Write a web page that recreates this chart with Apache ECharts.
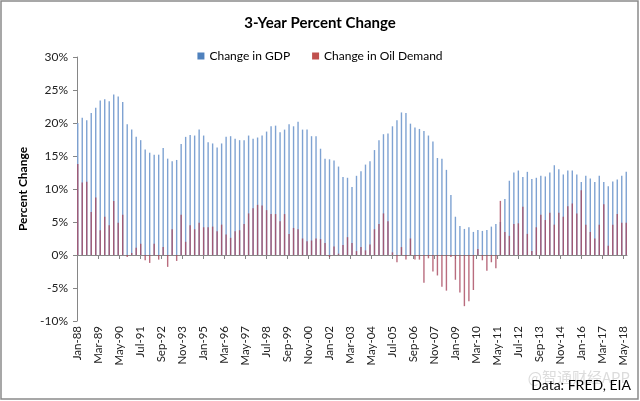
<!DOCTYPE html>
<html><head><meta charset="utf-8">
<script src="https://cdn.jsdelivr.net/npm/echarts@6/dist/echarts.min.js"></script>
<style>html,body{margin:0;padding:0;background:#fff}#c{width:640px;height:401px}</style>
</head><body><div id="c"></div>
<script>
const chartTitle = '3-Year Percent Change';
const seriesNames = ['Change in GDP', 'Change in Oil Demand'];
const sourceText = 'Data: FRED, EIA';
const watermarkText = '@智通财经APP';
const monthNames = ['Jan','Feb','Mar','Apr','May','Jun','Jul','Aug','Sep','Oct','Nov','Dec'];
const firstYear = 1988;      // axis starts Jan-88 (monthly date axis)
const monthCount = 367;      // Jan-88 .. Jul-18
const dataStepMonths = 3;    // quarterly observations
const labelEveryMonths = 14; // tick label spacing
// quarterly values, Jan-88 .. Jul-18 (percent)
const gdp = [20.0,20.8,20.4,21.5,22.3,23.4,23.6,23.3,24.3,24.0,23.2,
  19.8,19.0,17.9,17.4,16.0,15.5,15.2,15.2,16.2,14.6,
  14.2,14.4,16.8,17.9,18.2,18.1,19.0,18.1,17.1,16.9,
  16.3,16.9,17.9,18.0,17.6,17.4,17.4,18.1,17.6,17.8,
  18.1,18.7,19.5,19.6,18.6,19.0,19.8,19.5,20.2,19.0,
  19.0,18.0,18.0,16.1,14.6,14.5,14.3,13.4,11.8,11.7,
  10.3,12.0,12.7,13.7,14.2,15.9,17.4,18.3,18.4,19.5,
  20.4,21.6,21.5,19.9,19.3,19.1,18.8,18.1,17.2,14.7,
  14.6,12.9,9.1,5.8,4.4,3.95,4.2,3.5,3.8,3.65,
  3.8,4.3,4.7,5.0,8.5,11.25,12.5,12.8,11.8,12.6,
  11.5,11.7,12.0,11.9,12.5,13.6,13.0,12.2,12.8,12.8,
  12.2,11.05,12.0,11.6,11.05,12.0,11.05,10.4,11.15,11.45,12.0,12.6];
const oil = [13.8,11.0,11.1,6.5,8.7,3.75,5.8,4.5,8.2,4.9,6.1,
  -0.3,0.3,1.1,1.7,-0.8,-1.2,1.7,-0.7,1.2,-1.8,
  3.9,-0.9,6.1,2.0,4.5,3.9,4.9,4.2,4.2,4.3,
  3.6,4.6,3.1,2.6,3.6,3.75,4.7,6.3,7.1,7.6,
  7.5,6.8,6.2,6.2,5.1,6.2,3.2,4.1,3.9,2.5,
  2.1,2.2,2.5,2.4,1.8,-0.3,1.3,0.2,1.5,2.7,
  1.8,0.6,1.2,0.7,1.6,3.9,4.7,6.3,5.1,0.4,
  -1.1,1.2,-0.7,2.5,-0.7,-0.7,-4.2,-0.5,-2.5,-3.1,
  -4.8,-5.4,-0.3,-3.75,-5.7,-7.75,-7.0,-5.3,0.9,-0.8,
  -2.4,-1.1,-2.0,8.2,3.5,2.9,4.7,4.8,7.3,3.2,
  0.6,4.2,6.1,5.3,6.4,4.6,6.4,5.8,7.4,7.8,
  6.3,9.8,4.6,3.5,2.5,4.6,7.7,1.4,4.6,6.2,4.9,4.9];

const cats = [];
for (let m = 0; m < monthCount; m++) {
  const y = (firstYear + Math.floor(m / 12)) % 100;
  cats.push(monthNames[m % 12] + '-' + String(y).padStart(2, '0'));
}
function spread(vals) {
  const out = new Array(monthCount).fill('-');
  vals.forEach((v, i) => { out[i * dataStepMonths] = v; });
  return out;
}
const FONT = 'Lato';
const chart = echarts.init(document.getElementById('c'), null, {renderer: 'canvas'});
chart.setOption({
  backgroundColor: '#fff',
  animation: false,
  textStyle: {fontFamily: FONT},
  title: {text: chartTitle, left: 'center', top: 11,
    textStyle: {fontFamily: FONT, fontSize: 15, fontWeight: 'bold', color: '#000'}},
  legend: {top: 45, left: 'center', itemWidth: 7, itemHeight: 7, itemGap: 22,
    textStyle: {fontFamily: FONT, fontSize: 12, color: '#000'},
    data: [{name: seriesNames[0], icon: 'rect', itemStyle: {color: '#4F81BD', opacity: 1}},
           {name: seriesNames[1], icon: 'rect', itemStyle: {color: '#C0504D', opacity: 1}}]},
  grid: {left: 77, right: 13, top: 57, bottom: 80},
  xAxis: [
    {type: 'category', data: cats, position: 'bottom',
     axisLine: {show: false, onZero: false}, axisTick: {show: false}, splitLine: {show: false},
     axisLabel: {interval: labelEveryMonths - 1, rotate: 90, fontSize: 11.5, color: '#222', margin: 5, fontFamily: FONT}},
    {type: 'category', data: cats, position: 'top',
     axisLine: {show: true, onZero: true, lineStyle: {color: '#868686', width: 1}},
     axisTick: {show: true, inside: true, interval: labelEveryMonths - 1, alignWithLabel: true, length: 4, lineStyle: {color: '#868686'}},
     axisLabel: {show: false}, splitLine: {show: false}}
  ],
  yAxis: {type: 'value', min: -10, max: 30, interval: 5,
    name: 'Percent Change', nameLocation: 'middle', nameRotate: 90, nameGap: 46,
    nameTextStyle: {fontFamily: FONT, fontSize: 12, fontWeight: 'bold', color: '#000'},
    axisLine: {show: true, lineStyle: {color: '#868686'}},
    axisTick: {show: true, length: 4, lineStyle: {color: '#868686'}},
    axisLabel: {formatter: '{value}%', fontSize: 12, color: '#222', margin: 9, fontFamily: FONT},
    splitLine: {show: false}},
  series: [
    {name: seriesNames[0], type: 'bar', xAxisIndex: 0, data: spread(gdp), barWidth: 1.4, barGap: '-100%',
     itemStyle: {color: '#7EA2D2'}},
    {name: seriesNames[1], type: 'bar', xAxisIndex: 0, data: spread(oil), barWidth: 1.4, barGap: '-100%',
     itemStyle: {color: '#A8475E', opacity: 0.8}}
  ],
  graphic: [
    {type: 'rect', shape: {x: 1, y: 1, width: 637, height: 398}, style: {fill: 'none', stroke: '#8a8a8a', lineWidth: 1.5}, silent: true},
    {type: 'text', right: 10, top: 370, style: {text: watermarkText, font: '15px "Noto Sans CJK SC"', fill: '#dcdcdc'}},
    {type: 'text', right: 9, top: 378, style: {text: sourceText, font: '14px ' + FONT, fill: '#000'}}
  ]
});
</script></body></html>
